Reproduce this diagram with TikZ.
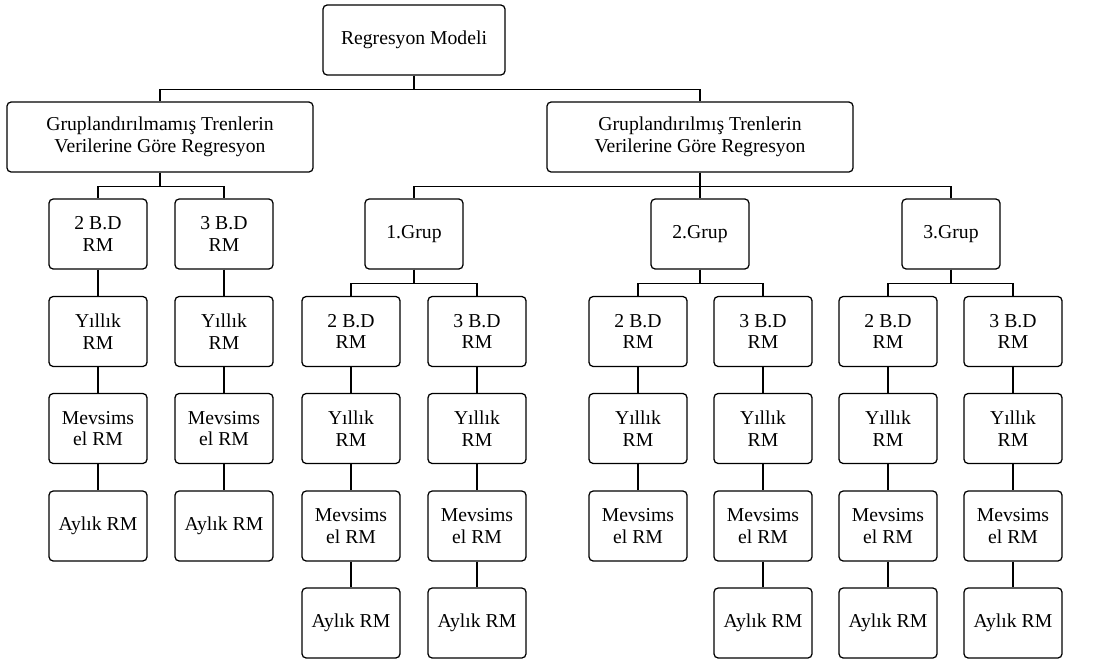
\documentclass[tikz,border=0pt]{standalone}
\usepackage{fontspec}
\setmainfont{Liberation Serif}
\usetikzlibrary{positioning}

\tikzset{
	box/.style={draw, rounded corners=3pt, line width=0.9pt, minimum width=2.45cm,
		minimum height=1.75cm, align=center, inner sep=1pt,
		font=\fontsize{14}{15.5}\selectfont},
	wide/.style={box, minimum width=4.55cm},
	wider/.style={box, minimum width=7.65cm},
	link/.style={line width=0.9pt},
}

\begin{document}
\begin{tikzpicture}[x=0.025cm, y=-0.025cm]
	
	\useasboundingbox (0,0) rectangle (1106,659);
	
	% Top levels
	\node[wide]  (root) at (414,40)  {Regresyon Modeli};
	\node[wider] (ungr) at (160,137) {Gruplandırılmamış Trenlerin\\Verilerine Göre Regresyon};
	\node[wider] (gr)   at (700,137) {Gruplandırılmış Trenlerin\\Verilerine Göre Regresyon};
	
	% Groups
	\node[box] (g1) at (414,234) {1.Grup};
	\node[box] (g2) at (700,234) {2.Grup};
	\node[box] (g3) at (951,234) {3.Grup};
	
	% Ungrouped columns
	\node[box] (a1) at (98,234)    {2 B.D\\RM};
	\node[box] (a2) at (98,331.5)  {Yıllık\\RM};
	\node[box] (a3) at (98,428.5)  {Mevsims\\el RM};
	\node[box] (a4) at (98,526)    {Aylık RM};
	\node[box] (b1) at (224,234)   {3 B.D\\RM};
	\node[box] (b2) at (224,331.5) {Yıllık\\RM};
	\node[box] (b3) at (224,428.5) {Mevsims\\el RM};
	\node[box] (b4) at (224,526)   {Aylık RM};
	
	% 1.Grup columns
	\node[box] (c1) at (351,331.5) {2 B.D\\RM};
	\node[box] (c2) at (351,428.5) {Yıllık\\RM};
	\node[box] (c3) at (351,526)   {Mevsims\\el RM};
	\node[box] (c4) at (351,623)   {Aylık RM};
	\node[box] (d1) at (477,331.5) {3 B.D\\RM};
	\node[box] (d2) at (477,428.5) {Yıllık\\RM};
	\node[box] (d3) at (477,526)   {Mevsims\\el RM};
	\node[box] (d4) at (477,623)   {Aylık RM};
	
	% 2.Grup columns
	\node[box] (e1) at (638,331.5) {2 B.D\\RM};
	\node[box] (e2) at (638,428.5) {Yıllık\\RM};
	\node[box] (e3) at (638,526)   {Mevsims\\el RM};
	\node[box] (f1) at (763,331.5) {3 B.D\\RM};
	\node[box] (f2) at (763,428.5) {Yıllık\\RM};
	\node[box] (f3) at (763,526)   {Mevsims\\el RM};
	\node[box] (f4) at (763,623)   {Aylık RM};
	
	% 3.Grup columns
	\node[box] (h1) at (888,331.5)  {2 B.D\\RM};
	\node[box] (h2) at (888,428.5)  {Yıllık\\RM};
	\node[box] (h3) at (888,526)    {Mevsims\\el RM};
	\node[box] (h4) at (888,623)    {Aylık RM};
	\node[box] (k1) at (1013,331.5) {3 B.D\\RM};
	\node[box] (k2) at (1013,428.5) {Yıllık\\RM};
	\node[box] (k3) at (1013,526)   {Mevsims\\el RM};
	\node[box] (k4) at (1013,623)   {Aylık RM};
	
	% Branches (elbow lines)
	\foreach \p/\c in {root/ungr, root/gr, ungr/a1, ungr/b1, gr/g1, gr/g2, gr/g3,
		g1/c1, g1/d1, g2/e1, g2/f1, g3/h1, g3/k1}
		\draw[link] (\p.south) -- ++(0,13.5) -| (\c.north);
	
	% Vertical chains
	\foreach \u/\v in {a1/a2, a2/a3, a3/a4, b1/b2, b2/b3, b3/b4,
		c1/c2, c2/c3, c3/c4, d1/d2, d2/d3, d3/d4,
		e1/e2, e2/e3, f1/f2, f2/f3, f3/f4,
		h1/h2, h2/h3, h3/h4, k1/k2, k2/k3, k3/k4}
		\draw[link] (\u) -- (\v);
	
\end{tikzpicture}
\end{document}
